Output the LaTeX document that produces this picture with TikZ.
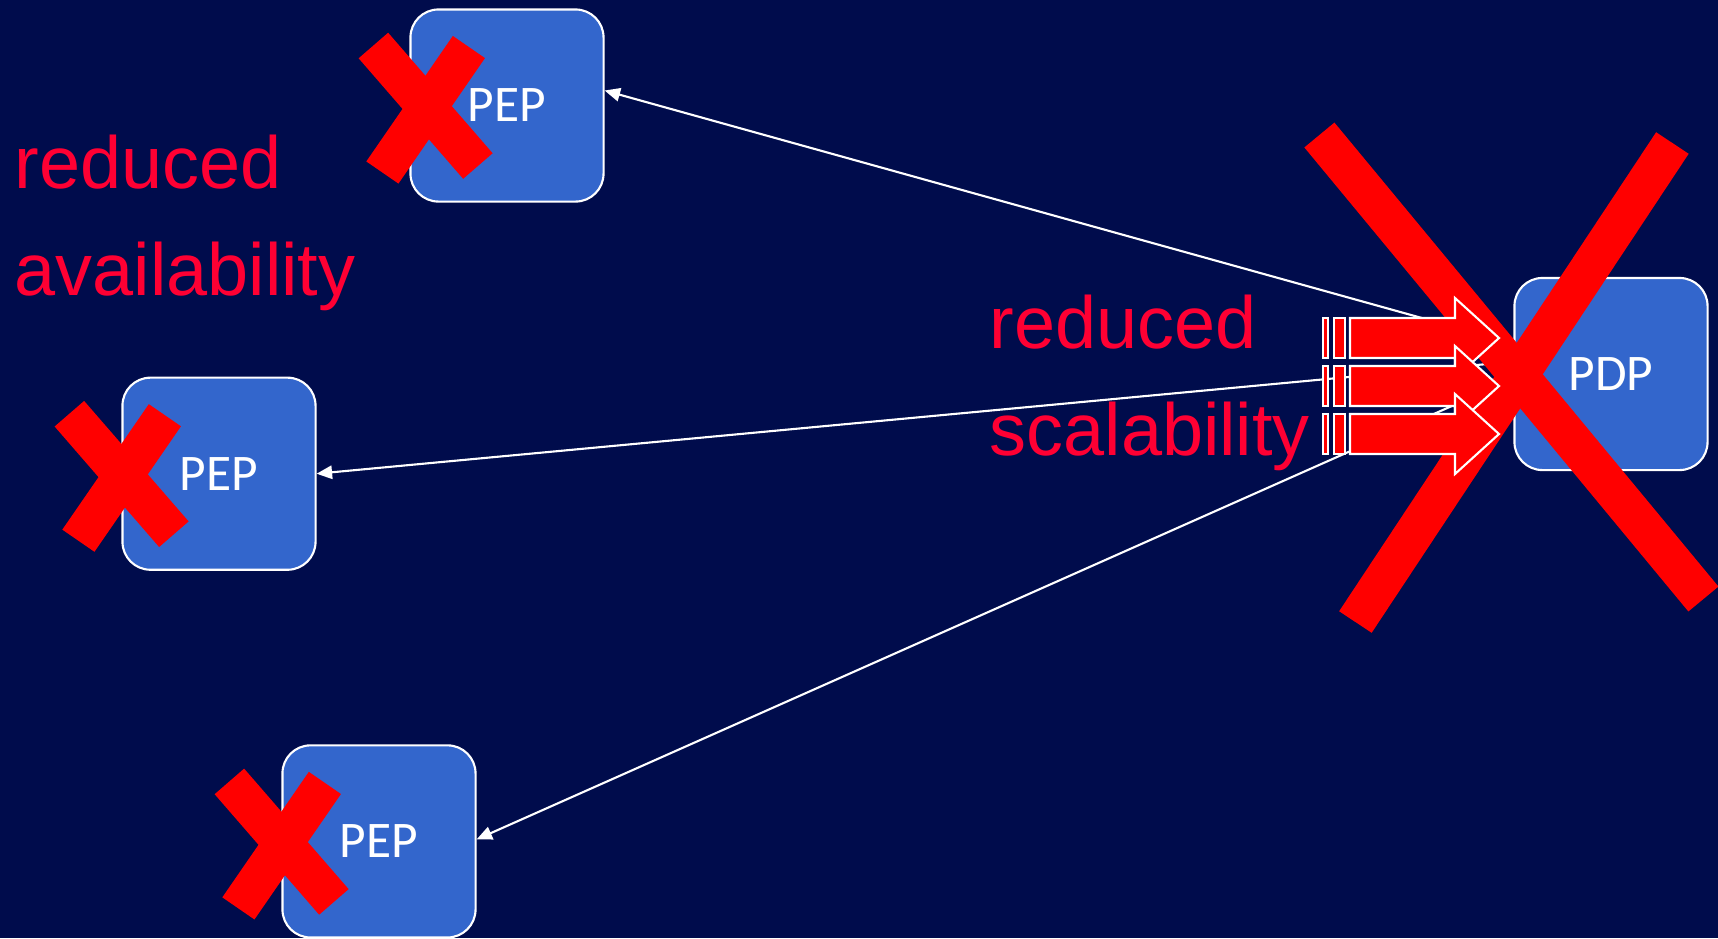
\documentclass[tikz,border=0pt]{standalone}
\usepackage{fontspec}
\setmainfont{Liberation Sans}
\newfontfamily\boxfont{Carlito}
\usetikzlibrary{arrows.meta}

\definecolor{slidebg}{RGB}{0,12,76}
\definecolor{boxblue}{RGB}{51,102,204}
\definecolor{warnred}{RGB}{255,0,51}

\begin{document}
\begin{tikzpicture}[x=0.01cm,y=-0.01cm,
   point/.style={draw=white,line width=0.6pt,fill=boxblue,rounded corners=0.28cm,
      minimum width=1.93cm,minimum height=1.92cm,text=white,
      font=\boxfont\fontsize{14.6}{18}\selectfont},
   msg/.style={draw=white,line width=0.6pt,-{Triangle[length=4.4pt,width=3.8pt,fill=white]}},
   stripe/.style={draw=white,line width=0.6pt,fill=red},
   xbar/.style={draw=red,line width=0.39cm},
   note/.style={text=warnred,font=\fontsize{21}{30.4}\selectfont,align=left,inner sep=0pt}]
   \path[use as bounding box,fill=slidebg] (0,0) rectangle (1718,938);
   % enforcement points
   \node[point] (pepa) at (507,105.5) {PEP};
   \node[point] (pepb) at (219,473.7) {PEP};
   \node[point] (pepc) at (379,841.4) {PEP};
   % decisions go out from behind the PDP box
   \coordinate (hub) at (1562,357);
    \path[msg]
    (hub) edge ([shift={(0,-15)}]pepa.east)
          edge (pepb.east)
          edge ([shift={(0,-2)}]pepc.east);
   \node[point] (pdp) at (1611,374) {PDP};
   % the PDP fails
   \draw[xbar] ([shift={(-194,-239)}]pdp.west) -- ([shift={(190,225)}]pdp.west);
   \draw[xbar] ([shift={(159,-231)}]pdp.west) -- ([shift={(-158,248)}]pdp.west);
   % striped arrows into the PDP
   \foreach \y in {338,386,434} {
      \draw[stripe] (1350,\y-20) -- (1455,\y-20) -- (1455,\y-40) -- (1499,\y)
         -- (1455,\y+40) -- (1455,\y+20) -- (1350,\y+20) -- cycle;
      \draw[stripe] (1322.7,\y-20) rectangle (1328.3,\y+20);
      \draw[stripe] (1333.7,\y-20) rectangle (1345,\y+20);
   }
   % the PEPs fail
   \foreach \p/\dx in {pepa/16,pepb/0,pepc/0} {
      \draw[xbar] ([shift={(\dx-52,-60)}]\p.west) -- ([shift={(\dx+52.5,60.5)}]\p.west);
      \draw[xbar] ([shift={(\dx+43.5,-58.5)}]\p.west) -- ([shift={(\dx-43,67)}]\p.west);
   }
   \node[note,anchor=base west] (avail) at (14,295) {reduced\\availability};
   \node[note,anchor=base west] (scal) at (989,455) {reduced\\scalability};
\end{tikzpicture}
\end{document}
